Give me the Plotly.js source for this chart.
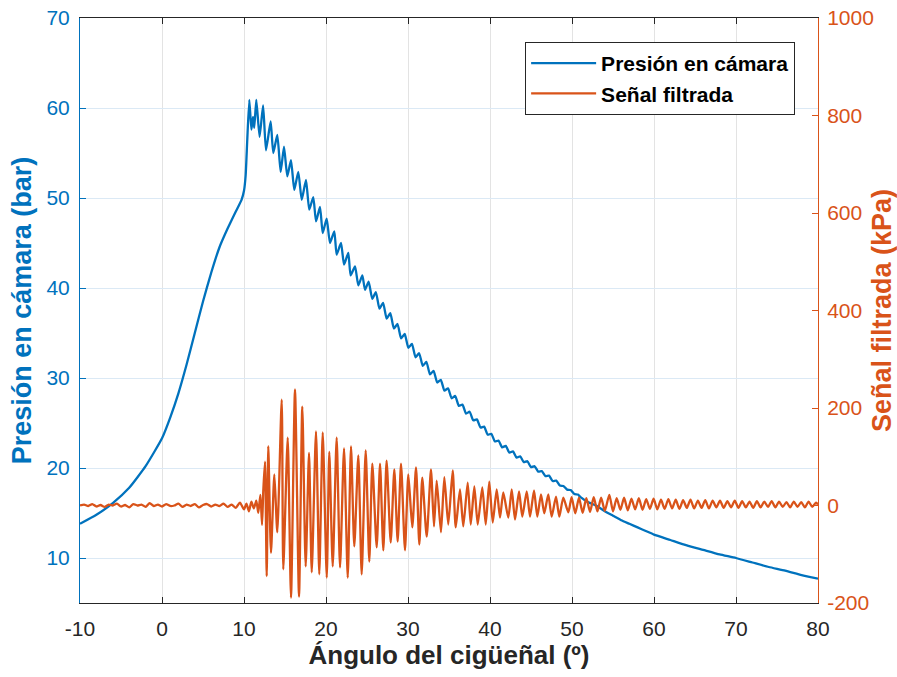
<!DOCTYPE html>
<html>
<head>
<meta charset="utf-8">
<script src="https://cdn.plot.ly/plotly-3.0.1.min.js"></script>
<style>
html,body{margin:0;padding:0;background:#fff;}
#chart{width:897px;height:677px;}
</style>
</head>
<body>
<div id="chart"></div>
<script>
// ---- Presión en cámara (bar) ----
const pressureAngle = [
  -10,-8,-6,-4,-2,0,1,2,3,4,5,6,7,8,9,9.7,10,10.2,10.4,
  10.65,10.9,11.1,11.25,11.5,11.9,12.33,12.68,13.25,13.57,14.06,14.47,14.88,15.28,15.73,16.13,
  16.62,17.04,17.56,17.96,18.45,18.78,19.27,19.6,20.08,20.49,21.01,21.3,21.83,22.2,22.72,23.0,
  23.54,23.94,24.43,24.76,25.2,25.64,26.08,26.52,26.96,27.4,27.84,28.28,28.72,29.16,29.6,30.04,
  30.48,30.92,31.36,31.8,32.24,32.68,33.12,33.56,34.0,34.44,34.88,35.32,35.76,36.2,36.64,37.08,
  37.52,37.96,38.4,38.84,39.28,39.72,40.16,40.6,41.04,41.48,41.92,42.36,42.8,43.24,43.68,44.12,
  44.56,45.0,45.44,45.88,46.32,46.76,47.2,47.64,48.08,48.52,48.96,49.4,49.84,50.28,50.72,
  51,52,53,54,55,56,57,58,59,60,62,64,66,68,70,72,74,76,78,80
];
const pressureBar = [
  13.8,14.8,16.1,17.8,20.2,23.3,25.6,28.3,31.5,35.0,38.5,41.7,44.5,46.6,48.5,49.8,50.8,52.5,56.5,
  60.9,57.6,59.0,57.8,60.9,56.8,60.3,55.3,58.5,55.0,57.0,52.9,55.7,52.4,54.2,50.9,
  52.9,49.8,52.0,48.7,50.1,47.4,49.0,46.1,47.7,45.0,46.3,43.7,45.0,42.6,43.9,41.4,
  42.4,40.3,41.4,39.8,40.7,38.8,39.55,37.7,38.35,36.6,37.2,35.5,36.0,34.4,34.9,33.35,
  33.8,32.3,32.75,31.35,31.8,30.4,30.8,29.5,29.8,28.6,28.85,27.75,28.0,26.9,27.05,26.05,
  26.25,25.3,25.4,24.5,24.6,23.7,23.8,22.95,23.05,22.3,22.45,21.7,21.85,21.15,21.3,20.65,
  20.75,20.1,20.2,19.6,19.65,19.1,19.15,18.55,18.6,18.05,18.0,17.6,17.55,17.1,17.05,
  16.8,16.2,15.8,15.2,14.7,14.2,13.8,13.4,13.0,12.6,12.0,11.4,10.9,10.4,10.0,9.5,9.0,8.6,8.1,7.7
];

// ---- Señal filtrada (kPa) ----
const signalAngle = [
  -10,-9.5,-9,-8.5,-8,-7.5,-7,-6.5,-6,-5.5,-5,-4.5,-4,-3.5,-3,-2.5,-2,-1.5,-1,-0.5,
  0,0.5,1,1.5,2,2.5,3,3.5,4,4.5,5,5.5,6,6.5,7,7.5,8,8.5,9,9.5,10,10.3,10.6,10.9,11.2,11.5,
  11.74,12.0,12.2,12.35,
  12.56,12.77,12.96,13.29,13.70,14.06,14.60,14.79,15.33,15.73,16.22,16.71,17.11,17.52,17.93,18.26,
  18.78,19.18,19.60,20.09,20.40,20.82,21.30,21.71,22.20,22.65,23.05,23.45,23.94,24.35,24.84,25.28,
  25.65,26.18,26.59,26.99,27.39,27.89,28.33,28.74,29.15,29.63,30.04,30.52,30.98,31.38,31.74,32.28,
  32.80,33.17,33.50,34.02,34.43,34.91,35.45,35.82,36.34,36.74,37.28,37.65,38.09,38.50,39.06,39.48,
  39.91,40.33,40.82,41.22,41.62,42.23,42.65,43.05,43.54,43.94,44.48,44.88,45.37,45.77,46.22,46.62,
  47.11,47.52,48.05,48.45,48.94,49.55,
  49.95,50.4,50.85,51.3,51.75,52.2,52.65,53.1,53.55,54.0,54.55,55.0,55.45,55.9,56.35,56.8,
  57.25,57.7,58.15,58.6,59.05,59.5,59.95,60.4,60.85,61.3,61.75,62.2,62.65,63.1,63.55,64.0,
  64.45,64.9,65.35,65.8,66.25,66.7,67.15,67.6,68.05,68.5,68.95,69.4,69.85,70.3,70.75,71.2,
  71.65,72.1,72.55,73.0,73.45,73.9,74.35,74.8,75.25,75.7,76.15,76.6,77.05,77.5,77.95,78.4,
  78.85,79.3,79.75,80
];
const signalKPa = [
  0,2,-1,3,-2,1,-3,2,0,4,-2,1,-4,3,0,2,-3,5,-1,2,
  -2,3,-1,0,4,-3,2,-1,3,-4,1,3,-2,2,-1,4,-3,2,-5,6,-8,4,-12,8,-6,10,
  -15,22,-40,30,
  90,-145,122,-97,64,-55,217,-131,139,-189,238,-187,203,-125,108,-137,
  152,-141,150,-148,110,-125,139,-127,117,-148,121,-84,103,-141,113,-115,
  86,-86,86,-92,92,-76,74,-74,86,-92,64,-45,78,-80,57,-64,
  74,-43,51,-55,58,-39,72,-45,33,-43,47,-39,39,-39,37,-39,
  49,-35,33,-25,27,-25,33,-29,29,-23,29,-23,31,-23,23,-16,
  23,-23,18,-23,16,-14,
  17,-16,16,-15,15,-13,17,-12,16,-11,22,-12,15,-9,16,-10,
  14,-8,15,-9,13,-7,14,-8,12,-7,13,-6,12,-7,11,-5,
  12,-6,10,-5,11,-6,10,-4,10,-5,9,-4,10,-5,9,-4,
  8,-5,9,-4,8,-3,9,-4,8,-3,7,-4,8,-3,7,-4,
  8,-3,6,2
];

const xTicks = [-10,0,10,20,30,40,50,60,70,80];
const leftTicks = [10,20,30,40,50,60,70];
const rightTicks = [-200,0,200,400,600,800,1000];

const BLUE = '#0072BD';
const ORANGE = '#D95319';
const DARK = '#262626';
const FONT = 'Liberation Sans, Arial, sans-serif';

const traces = [
  {
    x: pressureAngle, y: pressureBar, type: 'scatter', mode: 'lines',
    name: 'Presión en cámara', yaxis: 'y',
    line: {color: BLUE, width: 2.3, shape: 'spline', smoothing: 0.5}
  },
  {
    x: signalAngle, y: signalKPa, type: 'scatter', mode: 'lines',
    name: 'Señal filtrada', yaxis: 'y2',
    line: {color: ORANGE, width: 2.3, shape: 'spline', smoothing: 0.6}
  }
];

const layout = {
  width: 897, height: 677,
  margin: {l: 80, r: 79, t: 18, b: 74},
  paper_bgcolor: '#ffffff', plot_bgcolor: '#ffffff',
  font: {family: FONT, size: 21, color: DARK},
  showlegend: true,
  legend: {
    x: 0.969, y: 0.959, xanchor: 'right', yanchor: 'top',
    bgcolor: '#ffffff', bordercolor: DARK, borderwidth: 1,
    font: {family: FONT, size: 21, color: '#000', weight: 'bold'},
    itemwidth: 65, tracegroupgap: 0
  },
  xaxis: {
    range: [-10, 80], tickvals: xTicks, ticktext: xTicks.map(String),
    showgrid: true, gridcolor: '#e3e3e3', gridwidth: 1,
    zeroline: false, showline: true, linecolor: DARK, linewidth: 1,
    mirror: 'ticks', ticks: 'inside', ticklen: 6, tickcolor: DARK,
    tickfont: {family: FONT, size: 21, color: DARK},
    ticklabelstandoff: 7,
    title: {text: 'Ángulo del cigüeñal (º)', font: {family: FONT, size: 26, color: DARK, weight: 'bold'}, standoff: 5}
  },
  yaxis: {
    range: [5, 70], tickvals: leftTicks, ticktext: leftTicks.map(String),
    showgrid: true, gridcolor: '#dbe9f5', gridwidth: 1,
    zeroline: false, showline: true, linecolor: BLUE, linewidth: 1,
    ticks: 'inside', ticklen: 6, tickcolor: BLUE,
    tickfont: {family: FONT, size: 21, color: BLUE},
    ticklabelstandoff: 5,
    title: {text: 'Presión en cámara (bar)', font: {family: FONT, size: 27, color: BLUE, weight: 'bold'}, standoff: 6}
  },
  yaxis2: {
    range: [-200, 1000], tickvals: rightTicks, ticktext: rightTicks.map(String),
    overlaying: 'y', side: 'right',
    showgrid: false, zeroline: false, showline: true, linecolor: ORANGE, linewidth: 1,
    ticks: 'inside', ticklen: 6, tickcolor: ORANGE,
    tickfont: {family: FONT, size: 21, color: ORANGE},
    ticklabelstandoff: 4,
    title: {text: 'Señal filtrada (kPa)', font: {family: FONT, size: 27, color: ORANGE, weight: 'bold'}, standoff: 0}
  }
};

Plotly.newPlot('chart', traces, layout, {displayModeBar: false, staticPlot: true});
</script>
</body>
</html>
